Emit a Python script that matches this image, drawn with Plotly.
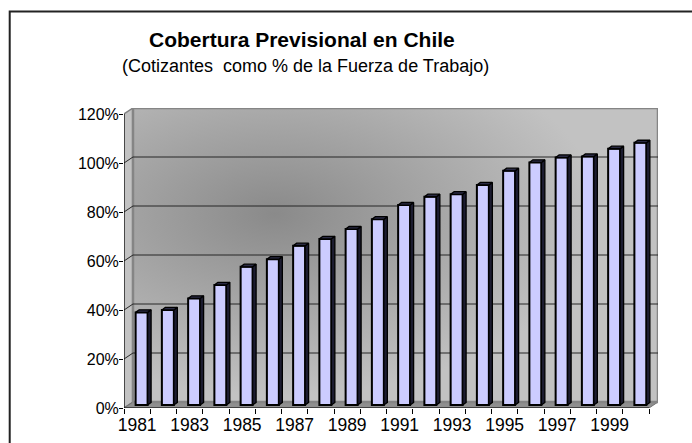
import base64
import plotly.graph_objects as go

# ---------------- data ----------------
years = [str(y) for y in range(1981, 2001)]
coverage = [37.8, 38.8, 43.5, 49.0, 56.4, 59.5, 65.0, 67.8, 71.8, 75.8,
            81.6, 85.0, 86.0, 89.8, 95.6, 99.0, 101.0, 101.4, 104.6, 107.0]
y_ticks = [0, 20, 40, 60, 80, 100, 120]
y_ticktext = [f"{v}%" for v in y_ticks]
x_label_years = years[::2]

title = "Cobertura Previsional en Chile"
subtitle = "(Cotizantes  como % de la Fuerza de Trabajo)"

# ---------------- geometry (pixels) ----------------
W, H = 692, 443
PX_CAT = 26.3          # px per category
PX_PCT = 2.45          # px per percent
FRONT_LEFT = 123.5
FRONT_BOTTOM = 408
DEPTH_PX = (9, 6)      # 3-D depth offset of back wall
PLOT_RIGHT = FRONT_LEFT + PX_CAT * 20 + DEPTH_PX[0]
PLOT_TOP = FRONT_BOTTOM - 120 * PX_PCT - DEPTH_PX[1]

n = len(years)
DX = DEPTH_PX[0] / PX_CAT
DY = DEPTH_PX[1] / PX_PCT
x_min = -0.5
x_max = -0.5 + (PLOT_RIGHT - FRONT_LEFT) / PX_CAT
y_max = (FRONT_BOTTOM - PLOT_TOP) / PX_PCT

BAR_W = 12 / PX_CAT
BAR_DX = 3.5 / PX_CAT
BAR_DY = 2.6 / PX_PCT
bar_base = DY / 2
idx = list(range(n))
bar_x = [i + DX / 2 for i in idx]

plot_w = PLOT_RIGHT - FRONT_LEFT
plot_h = FRONT_BOTTOM - PLOT_TOP


def px_x(p):
    return (p - FRONT_LEFT) / plot_w


def px_y(p):
    return (FRONT_BOTTOM - p) / plot_h


def dx_paper(xd):
    return (xd - x_min) / (x_max - x_min)


def dy_paper(yd):
    return yd / y_max


fig = go.Figure()

# front faces of bars
fig.add_trace(go.Bar(
    x=bar_x, y=coverage, base=[bar_base] * n, width=BAR_W,
    marker=dict(color="#ccccff", line=dict(color="#000000", width=2)),
    hoverinfo="skip", showlegend=False))

# side faces and tops
side_x, side_y, top_x, top_y = [], [], [], []
for xc, v in zip(bar_x, coverage):
    xl = xc - BAR_W / 2
    xr = xc + BAR_W / 2
    yb = bar_base
    yt = bar_base + v
    side_x += [xr, xr, xr + BAR_DX, xr + BAR_DX, xr, None]
    side_y += [yb, yt, yt + BAR_DY, yb + BAR_DY, yb, None]
    top_x += [xl, xr, xr + BAR_DX, xl + BAR_DX, xl, None]
    top_y += [yt, yt, yt + BAR_DY, yt + BAR_DY, yt, None]
fig.add_trace(go.Scatter(x=side_x, y=side_y, mode="lines", fill="toself",
                         fillcolor="#1c1c30", line=dict(color="#000000", width=1.3),
                         hoverinfo="skip", showlegend=False))
fig.add_trace(go.Scatter(x=top_x, y=top_y, mode="lines", fill="toself",
                         fillcolor="#2a2a44", line=dict(color="#000000", width=1.3),
                         hoverinfo="skip", showlegend=False))

# ---------------- walls ----------------
svg = ('<svg xmlns="http://www.w3.org/2000/svg" width="525" height="294" '
       'preserveAspectRatio="none"><defs><radialGradient id="g" cx="0.27" cy="0.36" '
       'r="0.62"><stop offset="0" stop-color="#8a8a8a"/><stop offset="0.5" stop-color="#a6a6a6"/>'
       '<stop offset="1" stop-color="#c2c2c2"/></radialGradient></defs>'
       '<rect width="525" height="294" fill="url(#g)"/></svg>')
uri = "data:image/svg+xml;base64," + base64.b64encode(svg.encode()).decode()

shapes = []
# chart frame
shapes.append(dict(type="rect", xref="paper", yref="paper",
                   x0=px_x(9), x1=px_x(720), y0=px_y(470), y1=px_y(11.5),
                   line=dict(color="#222222", width=2), layer="below"))
# left side wall
shapes.append(dict(type="path", xref="x", yref="y", layer="below",
                   path=f"M {-0.5},0 L {-0.5},120 L {-0.5 + DX},{120 + DY} L {-0.5 + DX},{DY} Z",
                   fillcolor="#c2c2c2", line=dict(color="#808080", width=1.5)))
# floor
shapes.append(dict(type="path", xref="x", yref="y", layer="below",
                   path=f"M {-0.5},0 L {n - 0.5},0 L {n - 0.5 + DX},{DY} L {-0.5 + DX},{DY} Z",
                   fillcolor="#8f8f8f", line=dict(color="#707070", width=1)))
# back wall outline
shapes.append(dict(type="rect", xref="x", yref="y", layer="below",
                   x0=-0.5 + DX, x1=n - 0.5 + DX, y0=DY, y1=120 + DY,
                   line=dict(color="#858585", width=2.5)))
# gridlines on back and side walls
for t in y_ticks[1:-1]:
    shapes.append(dict(type="line", xref="x", yref="y", layer="below",
                       x0=-0.5 + DX, x1=n - 0.5 + DX, y0=t + DY, y1=t + DY,
                       line=dict(color="#262626", width=1)))
    shapes.append(dict(type="line", xref="x", yref="y", layer="below",
                       x0=-0.5, x1=-0.5 + DX, y0=t, y1=t + DY,
                       line=dict(color="#262626", width=1)))
# front axis lines
shapes.append(dict(type="line", xref="x", yref="y", layer="above",
                   x0=-0.5, x1=-0.5, y0=0, y1=120, line=dict(color="#000000", width=1)))
shapes.append(dict(type="line", xref="x", yref="y", layer="above",
                   x0=-0.5, x1=n - 0.5, y0=0, y1=0, line=dict(color="#000000", width=1)))

font_fam = "Arial, Liberation Sans, sans-serif"
annotations = [
    dict(text=f"<b>{title}</b>", xref="paper", yref="paper", x=px_x(302), y=px_y(39),
         xanchor="center", yanchor="middle", showarrow=False,
         font=dict(family=font_fam, size=21, color="#000000")),
    dict(text=subtitle, xref="paper", yref="paper", x=px_x(305), y=px_y(66.5),
         xanchor="center", yanchor="middle", showarrow=False,
         font=dict(family=font_fam, size=18, color="#000000")),
]

fig.update_layout(
    width=W, height=H,
    margin=dict(l=FRONT_LEFT, r=W - PLOT_RIGHT, t=PLOT_TOP, b=H - FRONT_BOTTOM, pad=0,
                autoexpand=False),
    paper_bgcolor="#ffffff", plot_bgcolor="rgba(0,0,0,0)",
    barmode="overlay", showlegend=False,
    shapes=shapes, annotations=annotations,
    images=[dict(source=uri, xref="paper", yref="paper",
                 x=dx_paper(-0.5 + DX), y=dy_paper(120 + DY),
                 sizex=dx_paper(n - 0.5 + DX) - dx_paper(-0.5 + DX),
                 sizey=dy_paper(120 + DY) - dy_paper(DY),
                 sizing="stretch", xanchor="left", yanchor="top", layer="below")],
    xaxis=dict(range=[x_min, x_max], showgrid=False, zeroline=False, showline=False,
               automargin=False,
               tickmode="array", tickvals=idx[::2], ticktext=x_label_years, ticks="",
               ticklabelstandoff=4,
               tickfont=dict(family=font_fam, size=17.5, color="#000000"),
               minor=dict(ticks="outside", tick0=-0.5, dtick=1, ticklen=5,
                          tickcolor="#000000", tickwidth=1),
               fixedrange=True),
    yaxis=dict(range=[0, y_max], showgrid=False, zeroline=False, showline=False,
               automargin=False,
               tickmode="array", tickvals=y_ticks, ticktext=y_ticktext,
               ticks="outside", ticklen=4, tickcolor="#000000", tickwidth=1,
               ticklabelstandoff=-3,
               tickfont=dict(family=font_fam, size=16, color="#000000"),
               fixedrange=True),
)

fig.write_html("out.html", config={"displayModeBar": False},
               post_script="document.body.style.margin='0';")
